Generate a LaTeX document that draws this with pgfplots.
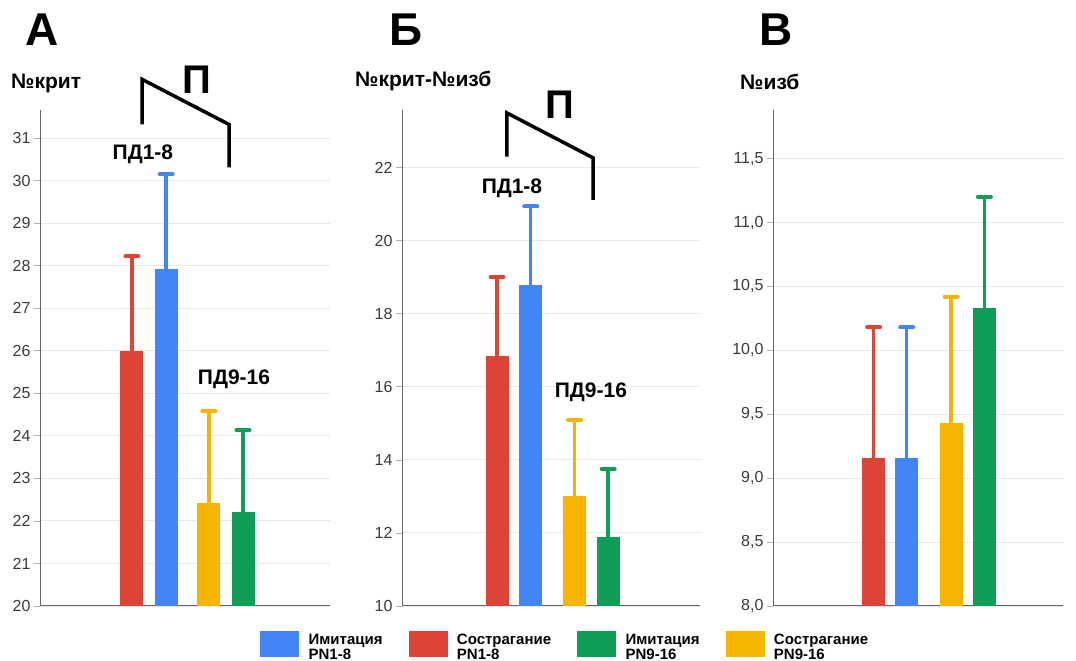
\documentclass[border=0pt]{standalone}
\usepackage{fontspec}
\setmainfont{Liberation Sans}
\usepackage{pgfplots}
\pgfplotsset{compat=1.18}
\definecolor{cred}{HTML}{DB4437}
\definecolor{cblue}{HTML}{4285F4}
\definecolor{cyellow}{HTML}{F4B400}
\definecolor{cgreen}{HTML}{0F9D58}
\definecolor{tickc}{HTML}{3A3A3A}
\tikzset{
  lbl/.style={font=\bfseries\fontsize{21}{24}\selectfont},
  ylbl/.style={font=\bfseries\fontsize{21}{24}\selectfont},
  brk/.style={line width=3.5pt, black, line join=miter},
}
\pgfplotsset{
  panel/.style={
    scale only axis, width=290pt, height=496pt, anchor=south west,
    xmin=0, xmax=1, xtick=\empty,
    axis x line=bottom, axis y line=left,
    axis line style={-, draw=black!60, line width=1pt},
    ymajorgrids, major grid style={draw=black!9, line width=0.9pt},
    ytick align=outside, major tick length=6pt,
    tick style={draw=black!30, line width=0.8pt},
    yticklabel style={font=\fontsize{16}{19}\selectfont, text=tickc},
    /pgf/number format/assume math mode=true,
    bar width=23pt,
    clip=false,
  },
  mybar/.style={ybar, bar shift=0pt, fill=#1, draw=none, forget plot,
    error bars/.cd, y dir=plus, y explicit, error mark=|,
    error bar style={line width=3.5pt, draw=#1},
    error mark options={line width=4pt, mark size=6.5pt, draw=#1, line cap=round}},
}
\begin{document}
\begin{tikzpicture}
\path[use as bounding box] (0pt,0pt) rectangle (1076pt,661pt);
% Panel letters and y labels
\node[font=\bfseries\fontsize{46}{50}\selectfont] at (42pt,631pt) {А};
\node[font=\bfseries\fontsize{46}{50}\selectfont] at (406pt,631pt) {Б};
\node[font=\bfseries\fontsize{46}{50}\selectfont] at (776pt,631pt) {В};
\node[ylbl, anchor=west, inner sep=0pt] at (11pt,578pt) {№крит};
\node[ylbl, anchor=west, inner sep=0pt] at (355pt,580pt) {№крит-№изб};
\node[ylbl, anchor=west, inner sep=0pt] at (740pt,579pt) {№изб};

% Panel A
\begin{axis}[panel, at={(40pt,55pt)}, ymin=20, ymax=31.66, ytick={20,21,...,31}]
\addplot[mybar=cred] coordinates {(0.317,26.0) +- (0,2.22)};
\addplot[mybar=cblue] coordinates {(0.435,27.93) +- (0,2.22)};
\addplot[mybar=cyellow] coordinates {(0.582,22.42) +- (0,2.16)};
\addplot[mybar=cgreen] coordinates {(0.700,22.22) +- (0,1.92)};
\draw[brk] (axis cs:0.352,31.32) -- (axis cs:0.352,32.38) -- (axis cs:0.652,31.32) -- (axis cs:0.652,30.31);
\node[font=\bfseries\fontsize{40}{44}\selectfont] at (axis cs:0.541,32.38) {П};
\node[lbl] at (axis cs:0.355,30.61) {ПД1-8};
\node[lbl] at (axis cs:0.669,25.32) {ПД9-16};
\end{axis}

% Panel B
\begin{axis}[panel, at={(402pt,55pt)}, width=298pt, ymin=10, ymax=23.58, ytick={10,12,...,22},
  legend style={at={(-0.4765,-0.05)}, anchor=north west, draw=none, fill=none,
    legend columns=4, inner sep=0pt,
    font=\bfseries\fontsize{15}{15}\selectfont,
    /tikz/every odd column/.append style={column sep=8pt},
    /tikz/every even column/.append style={column sep=24pt}},
  legend cell align=left]
\addlegendimage{legend image code/.code={\fill[cblue] (0pt,-12.5pt) rectangle (38pt,12.5pt);}}
\addlegendentry{\begin{tabular}{@{}l@{}}Имитация\\PN1-8\end{tabular}}
\addlegendimage{legend image code/.code={\fill[cred] (0pt,-12.5pt) rectangle (38pt,12.5pt);}}
\addlegendentry{\begin{tabular}{@{}l@{}}Сострагание\\PN1-8\end{tabular}}
\addlegendimage{legend image code/.code={\fill[cgreen] (0pt,-12.5pt) rectangle (38pt,12.5pt);}}
\addlegendentry{\begin{tabular}{@{}l@{}}Имитация\\PN9-16\end{tabular}}
\addlegendimage{legend image code/.code={\fill[cyellow] (0pt,-12.5pt) rectangle (38pt,12.5pt);}}
\addlegendentry{\begin{tabular}{@{}l@{}}Сострагание\\PN9-16\end{tabular}}
\addplot[mybar=cred] coordinates {(0.319,16.85) +- (0,2.15)};
\addplot[mybar=cblue] coordinates {(0.432,18.78) +- (0,2.16)};
\addplot[mybar=cyellow] coordinates {(0.579,13.0) +- (0,2.08)};
\addplot[mybar=cgreen] coordinates {(0.692,11.88) +- (0,1.87)};
\draw[brk] (axis cs:0.352,22.3) -- (axis cs:0.352,23.5) -- (axis cs:0.641,22.27) -- (axis cs:0.641,21.12);
\node[font=\bfseries\fontsize{40}{44}\selectfont] at (axis cs:0.53,23.73) {П};
\node[lbl] at (axis cs:0.369,21.45) {ПД1-8};
\node[lbl] at (axis cs:0.634,15.86) {ПД9-16};
\end{axis}

% Panel C
\begin{axis}[panel, at={(773pt,55pt)}, ymin=8, ymax=11.88, ytick={8,8.5,...,11.5},
  yticklabel style={/pgf/number format/.cd, fixed, fixed zerofill, precision=1, use comma}]
\addplot[mybar=cred] coordinates {(0.347,9.155) +- (0,1.025)};
\addplot[mybar=cblue] coordinates {(0.461,9.155) +- (0,1.025)};
\addplot[mybar=cyellow] coordinates {(0.614,9.43) +- (0,0.99)};
\addplot[mybar=cgreen] coordinates {(0.729,10.33) +- (0,0.87)};
\end{axis}
\end{tikzpicture}
\end{document}
